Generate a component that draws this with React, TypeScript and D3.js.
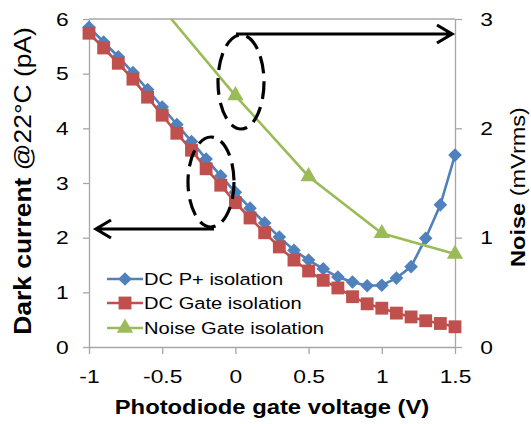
import React, { useEffect, useRef } from 'react';
import * as d3 from 'd3';

// gate voltage (V) for the two dark-current series
const dcVoltage = [-1, -0.9, -0.8, -0.7, -0.6, -0.5, -0.4, -0.3, -0.2, -0.1, 0, 0.1, 0.2, 0.3, 0.4, 0.5, 0.6, 0.7, 0.8, 0.9, 1, 1.1, 1.2, 1.3, 1.4, 1.5];
// dark current (pA)
const dcPPlus = [5.85, 5.58, 5.31, 5.02, 4.71, 4.39, 4.07, 3.76, 3.44, 3.13, 2.83, 2.54, 2.27, 2.01, 1.77, 1.59, 1.43, 1.28, 1.19, 1.12, 1.13, 1.26, 1.47, 1.99, 2.6, 3.51];
const dcGate = [5.74, 5.47, 5.19, 4.9, 4.57, 4.24, 3.91, 3.6, 3.26, 2.96, 2.64, 2.36, 2.09, 1.83, 1.59, 1.39, 1.22, 1.08, 0.92, 0.79, 0.71, 0.62, 0.55, 0.48, 0.43, 0.37];
// noise (mVrms), right axis
const noiseVoltage = [-0.5, 0, 0.5, 1, 1.5];
const noiseGate = [3.1, 2.3, 1.56, 1.04, 0.85];

const xTicks = [-1, -0.5, 0, 0.5, 1, 1.5];
const leftTicks = [0, 1, 2, 3, 4, 5, 6];
const rightTicks = [0, 1, 2, 3];
const legendLabels = ['DC P+ isolation', 'DC Gate isolation', 'Noise Gate isolation'];

const BLUE = '#4f81bd';
const RED = '#c0504d';
const GREEN = '#9bbb59';
const AXIS = '#a6a6a6';
const FONT = '"Liberation Sans", Arial, sans-serif';

const App = () => {
    const svgRef = useRef<SVGSVGElement>(null);

    useEffect(() => {
        const width = 531;
        const height = 424;
        const margin = { top: 19, right: 76, bottom: 77, left: 89 };

        const svg = d3.select(svgRef.current)
            .attr('width', width)
            .attr('height', height);
        svg.selectAll('*').remove();

        svg.append('rect').attr('width', width).attr('height', height).attr('fill', '#fff');

        const x = d3.scaleLinear().domain([-1, 1.5]).range([margin.left, width - margin.right]);
        const yL = d3.scaleLinear().domain([0, 6]).range([height - margin.bottom, margin.top]);
        const yR = d3.scaleLinear().domain([0, 3]).range([height - margin.bottom, margin.top]);

        svg.append('defs').append('clipPath').attr('id', 'plot-clip')
            .append('rect')
            .attr('x', margin.left - 10).attr('y', margin.top)
            .attr('width', width - margin.left - margin.right + 20)
            .attr('height', height - margin.top - margin.bottom + 10);

        // top border of the plot area
        svg.append('line')
            .attr('x1', x(-1)).attr('x2', x(1.5))
            .attr('y1', yL(6)).attr('y2', yL(6))
            .attr('stroke', '#7f7f7f').attr('stroke-width', 1.2);

        const fmt = d => String(d);

        const styleAxis = (g, tx, ty) => {
            g.select('.domain').attr('stroke', AXIS).attr('stroke-width', 1.3);
            g.selectAll('.tick line').attr('stroke', AXIS).attr('stroke-width', 1.3);
            g.selectAll('.tick text')
                .attr('font-family', FONT).attr('font-size', 19).attr('fill', '#000')
                .attr('x', tx).attr('y', ty)
                .attr('transform', 'scale(1.2,1)');
        };

        const gx = svg.append('g')
            .attr('transform', `translate(0,${yL(0)})`)
            .call(d3.axisBottom(x).tickValues(xTicks).tickSize(7).tickSizeOuter(0).tickFormat(fmt));
        styleAxis(gx, 0, 36);
        gx.selectAll('.tick text').attr('dy', 0);

        const gl = svg.append('g')
            .attr('transform', `translate(${x(-1)},0)`)
            .call(d3.axisLeft(yL).tickValues(leftTicks).tickSize(6).tickSizeOuter(0).tickFormat(fmt));
        styleAxis(gl, -17, 0);

        const gr = svg.append('g')
            .attr('transform', `translate(${x(1.5)},0)`)
            .call(d3.axisRight(yR).tickValues(rightTicks).tickSize(7).tickSizeOuter(0).tickFormat(fmt));
        styleAxis(gr, 21, 0);

        const plot = svg.append('g').attr('clip-path', 'url(#plot-clip)');

        const diamond = 'M0,-6.8L6.8,0L0,6.8L-6.8,0Z';
        const square = d3.symbol().type(d3.symbolSquare).size(165)();
        const triangle = d3.symbol().type(d3.symbolTriangle).size(115)();

        const series = [
            { xs: dcVoltage, ys: dcPPlus, scale: yL, color: BLUE, marker: diamond },
            { xs: dcVoltage, ys: dcGate, scale: yL, color: RED, marker: square },
            { xs: noiseVoltage, ys: noiseGate, scale: yR, color: GREEN, marker: triangle },
        ];

        series.forEach(s => {
            const pts = s.xs.map((v, i) => [x(v), s.scale(s.ys[i])] as [number, number]);
            plot.append('path')
                .attr('d', d3.line()(pts))
                .attr('fill', 'none')
                .attr('stroke', s.color)
                .attr('stroke-width', 2.6);
            plot.selectAll(null)
                .data(pts)
                .enter()
                .append('path')
                .attr('d', s.marker)
                .attr('transform', d => `translate(${d[0]},${d[1]})`)
                .attr('fill', s.color);
        });

        // annotations: dashed ellipses and arrows
        const ann = svg.append('g').attr('stroke', '#000').attr('fill', 'none').attr('stroke-width', 3.2);
        ann.append('ellipse')
            .attr('cx', 241).attr('cy', 82).attr('rx', 23).attr('ry', 47)
            .attr('stroke-dasharray', '17 8');
        ann.append('ellipse')
            .attr('cx', 211).attr('cy', 182).attr('rx', 23).attr('ry', 45)
            .attr('stroke-dasharray', '17 8');
        ann.append('path')
            .attr('d', 'M236,34 L452,34 M437,25 L452,34 L437,43');
        ann.append('path')
            .attr('d', 'M214,229 L96,229 M111,220 L96,229 L111,238');

        // legend
        const legend = svg.append('g');
        const legendY = [279, 303, 328];
        const markers = [diamond, square, triangle];
        const colors = [BLUE, RED, GREEN];
        legendLabels.forEach((label, i) => {
            const y = legendY[i];
            legend.append('line')
                .attr('x1', 107).attr('x2', 143).attr('y1', y).attr('y2', y)
                .attr('stroke', colors[i]).attr('stroke-width', 2.6);
            legend.append('path')
                .attr('d', markers[i])
                .attr('transform', `translate(125,${y})`)
                .attr('fill', colors[i]);
            legend.append('text')
                .attr('transform', `translate(144,${y + 6}) scale(1.22,1)`)
                .attr('font-family', FONT).attr('font-size', 16.5)
                .text(label);
        });

        // x axis title
        svg.append('text')
            .attr('transform', `translate(272,414) scale(1.19,1)`)
            .attr('text-anchor', 'middle')
            .attr('font-family', FONT).attr('font-size', 20).attr('font-weight', 'bold')
            .text('Photodiode gate voltage (V)');

        // left axis title
        const lt = svg.append('text')
            .attr('transform', `translate(31,181) rotate(-90) scale(1.15,1)`)
            .attr('text-anchor', 'middle')
            .attr('font-family', FONT).attr('font-size', 23);
        lt.append('tspan').attr('font-weight', 'bold').text('Dark current ');
        lt.append('tspan').text('@22°C (pA)');

        // right axis title
        const rt = svg.append('text')
            .attr('transform', `translate(525,187) rotate(-90) scale(1.12,1)`)
            .attr('text-anchor', 'middle')
            .attr('font-family', FONT).attr('font-size', 21);
        rt.append('tspan').attr('font-weight', 'bold').text('Noise ');
        rt.append('tspan').text('(mVrms)');
    }, []);

    return (
        <svg ref={svgRef} style={{ position: 'absolute', left: 0, top: 0 }}></svg>
    );
};

export default App;
